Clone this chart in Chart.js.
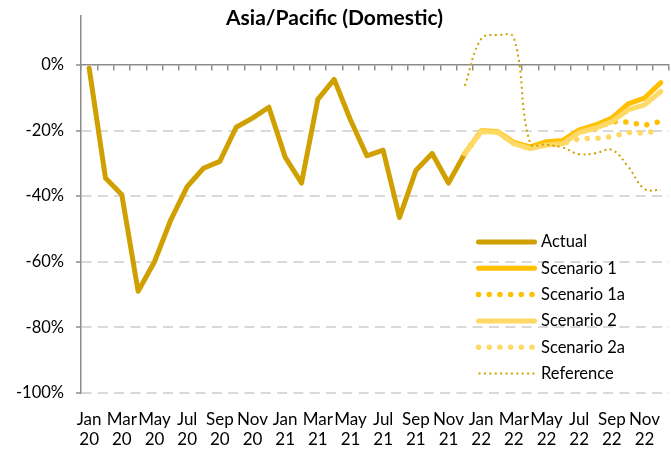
<!DOCTYPE html>
<html>
<head>
<meta charset="utf-8">
<script src="https://cdn.jsdelivr.net/npm/chart.js@4.4.1/dist/chart.umd.min.js"></script>
<style>
  html, body { margin: 0; padding: 0; background: #fff; }
</style>
</head>
<body>
<canvas id="lineChart" width="671" height="450"></canvas>
<script>
// categories: Jan 20 .. Dec 22, two-line labels
var months = ['Jan', 'Feb', 'Mar', 'Apr', 'May', 'Jun', 'Jul', 'Aug', 'Sep', 'Oct', 'Nov', 'Dec'];
var years = ['20', '21', '22'];

// % change, one value per month (null = no data)
var actual = [-1, -34.5, -39.6, -69, -60, -47.2, -37.1, -31.5, -29.4, -19, -16.2, -12.9,
              -28.1, -36, -10.5, -4.4, -16.8, -27.7, -26, -46.5, -32.2, -27, -36, -27,
              null, null, null, null, null, null, null, null, null, null, null, null];
var scenario1 = [null, null, null, null, null, null, null, null, null, null, null, null,
                 null, null, null, null, null, null, null, null, null, null, null, -27,
                 -20.1, -20.3, -23.6, -25, -23.4, -23, -19.8, -18.3, -16.2, -11.9, -10.1, -5.4];
var scenario1a = [null, null, null, null, null, null, null, null, null, null, null, null,
                  null, null, null, null, null, null, null, null, null, null, null, -27,
                  -20.2, -20.4, -23.8, -25.3, -24, -23.6, -20.4, -19.4, -17.3, -17.4, -18.4, -17.2];
var scenario2 = [null, null, null, null, null, null, null, null, null, null, null, null,
                 null, null, null, null, null, null, null, null, null, null, null, -27,
                 -20.3, -20.5, -24, -25.5, -24.4, -24, -20.6, -19.3, -17.3, -13.7, -12.2, -8.1];
var scenario2a = [null, null, null, null, null, null, null, null, null, null, null, null,
                  null, null, null, null, null, null, null, null, null, null, null, -27,
                  -20.3, -20.5, -24, -25.5, -24.4, -24, -22.5, -22.4, -21.9, -20.6, -20.8, -19.9];
var reference = [null, null, null, null, null, null, null, null, null, null, null, null,
                 null, null, null, null, null, null, null, null, null, null, null, -6.4,
                 7.9, 9.1, 8.3, -23.9, -24.3, -25.2, -27.2, -26.9, -25.9, -31, -37.8, -38.1];

var labels = [];
years.forEach(function(y) {
    months.forEach(function(m) { labels.push([m, y]); });
});

var gold = '#D0A000';
var bright = '#FFC000';
var light = '#FFD966';
var axisGray = '#8C8C8C';
var fontFamily = 'Lato, sans-serif';

Chart.defaults.font.family = fontFamily;
Chart.defaults.color = '#000';

// legend drawn inside the plot, lower right
var insideLegend = {
    id: 'insideLegend',
    afterDatasetsDraw: function(chart) {
        var ctx = chart.ctx;
        var area = chart.chartArea;
        var x0 = area.right - 193;
        var y0 = area.bottom - 151;
        var rowH = 26.3;
        ctx.save();
        chart.data.datasets.forEach(function(ds, i) {
            var y = y0 + i * rowH;
            ctx.beginPath();
            ctx.strokeStyle = ds.borderColor;
            ctx.lineWidth = ds.borderWidth;
            ctx.setLineDash(ds.borderDash || []);
            ctx.lineCap = ds.borderCapStyle || 'round';
            ctx.moveTo(x0 + 2.5, y);
            ctx.lineTo(x0 + 58.5, y);
            ctx.stroke();
            ctx.setLineDash([]);
            ctx.fillStyle = '#000';
            ctx.font = '16.5px ' + fontFamily;
            ctx.textBaseline = 'middle';
            ctx.textAlign = 'left';
            ctx.fillText(ds.label, x0 + 65, y);
        });
        ctx.restore();
    }
};

var chartCanvas = document.getElementById('lineChart').getContext('2d');
var lineChart = new Chart(chartCanvas, {
    type: 'line',
    data: {
        labels: labels,
        datasets: [{
            label: 'Actual',
            data: actual,
            borderColor: gold,
            borderWidth: 5,
            borderCapStyle: 'round',
            order: 5
        }, {
            label: 'Scenario 1',
            data: scenario1,
            borderColor: bright,
            borderWidth: 5,
            borderCapStyle: 'round',
            order: 2
        }, {
            label: 'Scenario 1a',
            data: scenario1a,
            borderColor: bright,
            borderWidth: 5.5,
            borderDash: [0, 10.7],
            borderCapStyle: 'round',
            order: 4
        }, {
            label: 'Scenario 2',
            data: scenario2,
            borderColor: light,
            borderWidth: 5,
            borderCapStyle: 'round',
            order: 1
        }, {
            label: 'Scenario 2a',
            data: scenario2a,
            borderColor: light,
            borderWidth: 5.5,
            borderDash: [0, 10.7],
            borderCapStyle: 'round',
            order: 3
        }, {
            label: 'Reference',
            data: reference,
            borderColor: gold,
            borderWidth: 2,
            borderDash: [2, 3.4],
            borderCapStyle: 'butt',
            tension: 0.4,
            order: 0
        }]
    },
    options: {
        responsive: false,
        animation: false,
        devicePixelRatio: 1,
        layout: { padding: { left: 0, right: 2, top: 0, bottom: 0 } },
        elements: {
            point: { radius: 0, hoverRadius: 0 },
            line: { borderJoinStyle: 'round', fill: false }
        },
        plugins: {
            legend: { display: false },
            tooltip: { enabled: false },
            title: {
                display: true,
                text: 'Asia/Pacific (Domestic)',
                color: '#000',
                font: { size: 21, weight: 'bold' },
                padding: { top: 6, bottom: -15.5 }
            }
        },
        scales: {
            x: {
                offset: true,
                grid: { display: false },
                border: { display: false },
                ticks: {
                    autoSkip: false,
                    maxRotation: 0,
                    padding: 8,
                    font: { size: 17, lineHeight: 1.2 },
                    callback: function(v, i) {
                        return i % 2 === 0 ? this.getLabelForValue(v) : '';
                    }
                },
                afterFit: function(scale) { scale.height = 57; }
            },
            // horizontal axis line at 0% with its tick marks
            xZero: {
                type: 'category',
                labels: labels,
                offset: true,
                position: { y: 0 },
                grid: {
                    offset: true,
                    drawOnChartArea: false,
                    drawTicks: true,
                    tickLength: 5,
                    color: axisGray,
                    lineWidth: 1.5
                },
                border: { color: axisGray, width: 1.5 },
                ticks: { display: false }
            },
            y: {
                min: -100,
                max: 15,
                afterBuildTicks: function(scale) {
                    scale.ticks = scale.ticks.filter(function(t) { return t.value % 20 === 0; });
                },
                ticks: {
                    stepSize: 20,
                    padding: 12,
                    font: { size: 16.5 },
                    callback: function(v) { return v + '%'; }
                },
                grid: {
                    color: function(c) {
                        return c.tick && c.tick.value === 0 ? 'rgba(0,0,0,0)' : '#D9D9D9';
                    },
                    lineWidth: 2,
                    tickLength: 5,
                    tickColor: axisGray,
                    tickWidth: 1.5,
                    tickBorderDash: []
                },
                border: { color: axisGray, width: 1.5, dash: [10, 6.3] },
                afterFit: function(scale) {
                    scale.width = 81;
                    // label overhang is not needed, the plot has room above 0%
                    scale.paddingTop = 0;
                    scale.paddingBottom = 0;
                }
            }
        }
    },
    plugins: [insideLegend]
});
</script>
</body>
</html>
